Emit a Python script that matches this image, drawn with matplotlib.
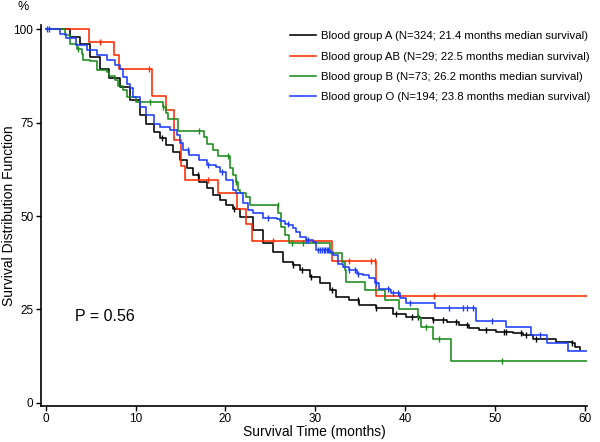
import numpy as np
import matplotlib
matplotlib.use("Agg")
import matplotlib.pyplot as plt

plt.rcParams['font.family'] = ['Liberation Sans', 'DejaVu Sans']

# ---- data (time in months, survival in %) ----
labels = [
    "Blood group A (N=324; 21.4 months median survival)",
    "Blood group AB (N=29; 22.5 months median survival)",
    "Blood group B (N=73; 26.2 months median survival)",
    "Blood group O (N=194; 23.8 months median survival)",
]
colors = ["#000000", "#ff2a00", "#1a8c1a", "#1f3dff"]

a_time = [0.5, 2.7, 3.8, 4.9, 6.0, 7.1, 8.3, 9.4, 10.5, 11.2, 12.0, 12.7, 13.4, 14.2,
          14.9, 15.7, 16.4, 17.1, 17.9, 18.6, 19.4, 20.1, 20.8, 21.6, 23.1, 24.2, 25.3,
          26.4, 27.5, 28.3, 29.4, 30.5, 31.6, 32.3, 33.8, 34.9, 36.8, 38.6, 40.1, 41.6,
          43.1, 44.6, 46.0, 47.1, 48.2, 50.1, 52.0, 53.1, 54.2, 56.8, 58.5, 58.9, 59.4]
a_surv = [100, 98.0, 96.2, 92.6, 89.5, 86.9, 84.6, 81.0, 77.0, 74.8, 72.6, 70.8, 69.0, 67.2,
          65.0, 62.8, 61.0, 59.2, 57.4, 55.6, 54.3, 52.9, 52.0, 49.8, 46.2, 42.7, 40.4,
          37.8, 36.9, 35.5, 33.7, 32.0, 30.2, 28.4, 27.5, 26.2, 25.3, 23.9, 23.0, 22.6,
          22.1, 21.7, 20.8, 19.9, 19.5, 19.0, 18.6, 18.1, 17.2, 16.3, 15.9, 15.0, 14.0]
a_cens = [12.9, 17.0, 21.0, 27.5, 28.5, 29.5, 31.8, 34.7, 36.8, 39.0, 40.7, 41.4, 43.1,
          44.2, 45.7, 46.9, 49.0, 51.0, 51.2, 52.9, 53.4, 54.5, 58.6]

ab_time = [0.0, 4.85, 7.6, 8.2, 11.8, 13.4, 14.25, 15.1, 15.5, 19.2, 21.3, 22.3, 23.0, 31.8, 36.8]
ab_surv = [100, 96.6, 93.1, 89.5, 82.1, 78.5, 70.5, 63.5, 59.8, 56.1, 51.8, 47.8, 43.4, 38.0, 28.6]
ab_cens = [6.0, 11.5, 18.1, 25.3, 33.8, 36.2, 36.6, 43.2]

b_time = [0.0, 2.14, 2.7, 3.44, 4.0, 4.2, 4.9, 5.7, 6.8, 7.0, 7.7, 8.1, 8.6, 9.0, 10.1,
          13.1, 13.4, 13.6, 14.7, 17.6, 17.9, 18.6, 19.2, 20.5, 20.8, 21.2, 21.4, 21.6,
          22.3, 22.7, 25.85, 26.2, 26.6, 27.1, 31.6, 33.0, 33.3, 33.4, 35.5, 37.8, 39.3,
          41.4, 41.7, 43.1, 45.1]
b_surv = [100, 98.6, 96.2, 94.9, 93.5, 91.9, 91.6, 89.1, 88.6, 87.5, 86.4, 84.8, 83.7, 81.9, 80.6,
          79.3, 77.5, 76.1, 72.8, 71.2, 69.3, 67.7, 66.1, 62.8, 61.0, 59.2, 56.9, 56.1,
          55.0, 53.1, 50.7, 47.1, 44.9, 42.7, 40.0, 37.8, 35.5, 32.4, 30.2, 27.5, 25.0,
          22.6, 20.4, 17.0, 11.2]
b_cens = [3.6, 11.6, 13.1, 17.1, 20.3, 21.2, 25.8, 27.4, 28.6, 42.3, 43.8, 50.8]

o_time = [0.5, 1.6, 2.3, 3.4, 4.6, 5.7, 6.8, 7.7, 8.3, 8.6, 9.0, 9.4, 9.7, 10.5, 11.2,
          12.0, 12.7, 13.8, 14.6, 14.9, 15.3, 16.0, 17.1, 17.9, 19.0, 19.4, 20.1, 20.8,
          21.2, 22.0, 22.5, 23.1, 24.2, 25.7, 26.1, 26.6, 27.1, 27.5, 27.9, 28.3, 29.0,
          29.7, 30.1, 31.6, 32.0, 32.5, 33.1, 33.8, 34.6, 35.3, 36.0, 36.6, 37.1, 38.3,
          38.4, 39.4, 40.1, 43.3, 47.9, 51.2, 54.0, 55.8, 58.1]
o_surv = [100, 98.9, 97.6, 95.8, 94.4, 93.1, 91.8, 90.4, 89.5, 87.3, 85.5, 84.2, 81.9, 79.3, 77.0,
          74.8, 73.9, 73.0, 71.7, 69.5, 67.7, 66.3, 65.0, 63.6, 63.2, 61.8, 59.6, 56.9,
          56.1, 53.4, 51.6, 50.7, 49.4, 49.1, 48.7, 48.0, 47.6, 46.7, 45.8, 44.4, 43.6,
          43.1, 40.9, 40.4, 39.5, 37.3, 36.4, 35.5, 34.6, 34.2, 33.3, 32.0, 30.6, 30.2,
          29.3, 28.0, 26.6, 25.3, 22.0, 20.2, 18.1, 16.1, 13.9]
o_cens = [0.2, 0.4, 15.8, 18.1, 19.6, 24.7, 27.0, 29.0, 29.2, 30.3, 30.5, 30.7, 31.0, 31.1,
          31.3, 31.4, 33.8, 34.4, 34.7, 36.8, 38.1, 38.6, 39.2, 40.5, 44.9, 46.4, 46.9,
          47.5, 49.6, 55.0]

end_times = [59.4, 60.2, 60.2, 60.2]

x_ticks = [0, 10, 20, 30, 40, 50, 60]
y_ticks = [0, 25, 50, 75, 100]
p_text = "P = 0.56"

series = [(a_time, a_surv, a_cens), (ab_time, ab_surv, ab_cens),
          (b_time, b_surv, b_cens), (o_time, o_surv, o_cens)]

fig = plt.figure(figsize=(6.0, 4.42), dpi=100)
ax = fig.add_axes([0.0683, 0.0821, 0.9097, 0.8613])

for (t, s, c), col, lab, tend in zip(series, colors, labels, end_times):
    t = np.array([0.0] + list(t) + [tend])
    s = np.array([100.0] + list(s) + [s[-1]])
    ax.step(t, s, where='post', color=col, lw=1.15, label=lab, zorder=3)
    c = np.array(c)
    idx = np.searchsorted(t, c, side='right') - 1
    cy = s[idx]
    ax.plot(c, cy, linestyle='none', marker='|', color=col, ms=4.5, mew=1.0, zorder=3)

ax.set_xlim(-0.52, 60.2)
ax.set_ylim(-0.8, 101.2)
ax.set_xticks(x_ticks)
ax.set_yticks(y_ticks)
ax.tick_params(direction='out', length=3.5, width=1.0, labelsize=8.5, pad=2, colors='black')
for sp in ['top', 'right']:
    ax.spines[sp].set_visible(False)
for sp in ['left', 'bottom']:
    ax.spines[sp].set_linewidth(1.2)

ax.set_xlabel("Survival Time (months)", fontsize=10)
ax.set_ylabel("Survival Distribution Function", fontsize=10)
ax.xaxis.set_label_coords(0.5, -0.050)
ax.yaxis.set_label_coords(-0.046, 0.5)
fig.text(23 / 600, 1 - 7 / 442, "%", fontsize=9, ha='center', va='center')
ax.text(3.3, 23.2, p_text, fontsize=11.5, ha='left', va='center')

leg = ax.legend(loc='upper left', bbox_to_anchor=(0.447, 0.995), frameon=False,
                fontsize=8.2, handlelength=2.3, handletextpad=0.45, labelspacing=0.9,
                borderaxespad=0.0)

fig.savefig("out.png", dpi=100)
